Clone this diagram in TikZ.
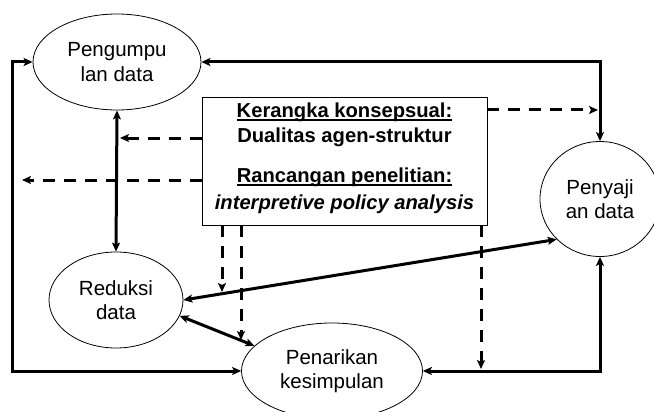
\documentclass[tikz,border=0pt]{standalone}
\usepackage{fontspec}
\setmainfont{Liberation Sans}
\newsavebox\myulbox
\newcommand\myul[1]{\sbox\myulbox{#1}\rlap{\rule[-3.5pt]{\wd\myulbox}{1.5pt}}\usebox\myulbox}
\usetikzlibrary{arrows.meta,shapes.geometric}
\begin{document}
\begin{tikzpicture}[x=1pt,y=-1pt,
  proc/.style={ellipse, draw, line width=0.8pt, inner sep=0pt, align=center,
    font=\fontsize{20.5}{24.5}\selectfont},
  flow/.style={line width=3pt,
    {Stealth[length=9pt,width=8pt,inset=2pt]}-{Stealth[length=9pt,width=8pt,inset=2pt]}},
  dflow/.style={line width=3pt, dash pattern=on 12pt off 9pt,
    -{Stealth[length=9pt,width=8pt,inset=2pt]}},
  framebox/.style={draw, line width=0.8pt, fill=white, align=center, inner sep=0pt,
    minimum width=285pt, minimum height=128pt,
    font=\fontsize{20.2}{25.5}\selectfont\bfseries}
]
\useasboundingbox (0,0) rectangle (654,412);
\clip (0,0) rectangle (654,412);

\node[proc, minimum width=168pt, minimum height=96pt] (peng) at (117,62) {Pengumpu\\lan data};
\node[proc, minimum width=134pt, minimum height=96pt] (red) at (116,300) {Reduksi\\data};
\node[proc, minimum width=181pt, minimum height=96pt] (pen) at (332,371) {Penarikan\\kesimpulan};
\node[proc, minimum width=120pt, minimum height=115pt] (sji) at (600,199) {Penyaji\\an data};

\node[framebox] (box) at (344.5,161) {\myul{Kerangka konsepsual:}\\Dualitas agen-struktur\\[14pt]\myul{Rancangan penelitian:}\\[1.5pt]\textit{interpretive policy analysis}\rule[-10pt]{0pt}{10pt}};

% solid connectors
\draw[flow] (peng.west) -- ++(-20,0) |- (pen.west);
\draw[flow] (peng.east) -| (sji.north);
\draw[flow] (sji.south) |- (pen.east);
\draw[flow] (peng.south) -- (red.north);
\draw[flow] (red.east) -- (sji.223);
\draw[flow] (red.-14) -- (pen.162);

% dashed connectors
\coordinate (fa) at (120,138);
\coordinate (fb) at (22,180);
\coordinate (fc) at (598,110);
\coordinate (fd) at (222,292);
\coordinate (fe) at (241,340);
\coordinate (ff) at (481,369);
\draw[dflow] (box.west |- fa) -- (fa);
\draw[dflow] (box.west |- fb) -- (fb);
\draw[dflow] (box.east |- fc) -- (fc);
\draw[dflow] (box.south -| fd) -- (fd);
\draw[dflow] (box.south -| fe) -- (fe);
\draw[dflow] (box.south -| ff) -- (ff);
\end{tikzpicture}
\end{document}
